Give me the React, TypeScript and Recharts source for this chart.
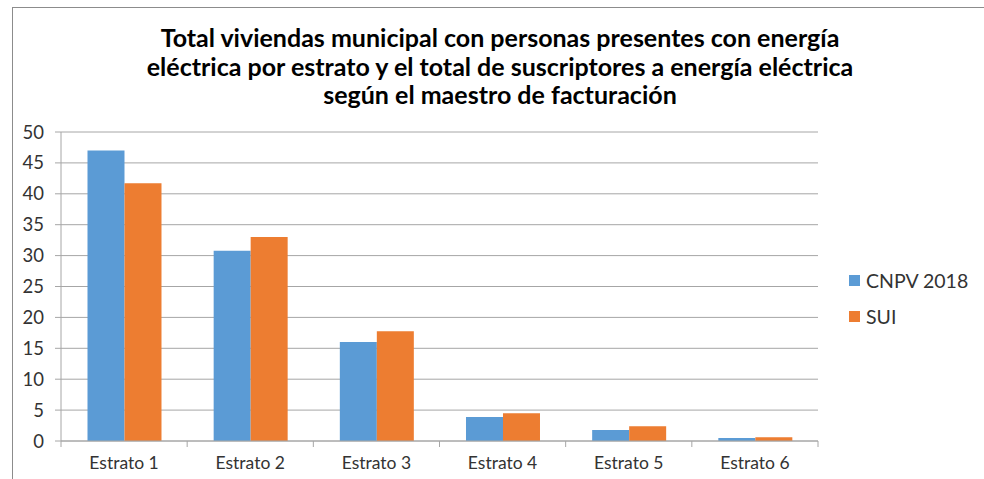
import { BarChart, Bar, XAxis, YAxis, CartesianGrid } from "recharts";

const categories = ["Estrato 1", "Estrato 2", "Estrato 3", "Estrato 4", "Estrato 5", "Estrato 6"];
const cnpv2018 = [47.0, 30.8, 16.0, 3.9, 1.8, 0.5];
const sui = [41.7, 33.0, 17.75, 4.5, 2.4, 0.6];
const yTicks = [0, 5, 10, 15, 20, 25, 30, 35, 40, 45, 50];
const seriesNames = ["CNPV 2018", "SUI"];

const COLORS = ["#5B9BD5", "#ED7D31"];
const AXIS = "#a6a6a6";
const TEXT = "#333";
const FONT = "Lato, 'Open Sans', sans-serif";
const X_MARGIN = 16;

const titleLines = [
  "Total viviendas municipal con personas presentes con energía",
  "eléctrica por estrato y el total de suscriptores a energía eléctrica",
  "según el maestro de facturación",
];

// category label plus the boundary tick marks Excel draws between bands
function CategoryTick(props: any) {
  const { x, y, payload, index } = props;
  const off = payload?.offset ?? 0;
  const axisY = y - X_MARGIN;
  const last = index === categories.length - 1;
  return (
    <g>
      {off > 0 && (
        <line x1={x - off} x2={x - off} y1={axisY} y2={axisY + 6} stroke={AXIS} />
      )}
      {off > 0 && last && (
        <line x1={x + off} x2={x + off} y1={axisY} y2={axisY + 6} stroke={AXIS} />
      )}
      <text x={x} y={y} dy="0.71em" textAnchor="middle" fontSize={17.5} fill={TEXT} fontFamily={FONT}>
        {payload.value}
      </text>
    </g>
  );
}

export default function App() {
  const data = categories.map((name, i) => ({
    name,
    [seriesNames[0]]: cnpv2018[i],
    [seriesNames[1]]: sui[i],
  }));

  return (
    <div
      style={{
        position: "absolute",
        left: 0,
        top: 0,
        width: 984,
        height: 479,
        overflow: "hidden",
        background: "#fff",
        fontFamily: FONT,
      }}
    >
      {/* chart frame, only left and top edges are visible */}
      <div
        style={{
          position: "absolute",
          left: 12,
          top: 7,
          width: 1000,
          height: 500,
          borderLeft: "1px solid #8c8c8c",
          borderTop: "1px solid #8c8c8c",
        }}
      />
      <div
        style={{
          position: "absolute",
          left: 98,
          top: 23,
          width: 804,
          textAlign: "center",
          fontWeight: 700,
          fontSize: 25,
          lineHeight: "28.5px",
          color: "#000",
        }}
      >
        {titleLines.map((t) => (
          <div key={t}>{t}</div>
        ))}
      </div>

      <div style={{ position: "absolute", left: 0, top: 0 }}>
        <BarChart
          width={984}
          height={479}
          data={data}
          margin={{ top: 132, right: 166, bottom: 8, left: 21 }}
          barCategoryGap="21%"
          barGap={0}
        >
          <CartesianGrid vertical={false} stroke={AXIS} />
          <XAxis
            dataKey="name"
            height={30}
            stroke={AXIS}
            tickSize={0}
            tickMargin={X_MARGIN}
            tickLine={false}
            interval={0}
            tick={<CategoryTick />}
          />
          <YAxis
            width={40}
            domain={[0, 50]}
            ticks={yTicks}
            interval={0}
            stroke={AXIS}
            tickSize={6}
            tickMargin={11}
            tick={{ fontSize: 18.5, fill: TEXT, fontFamily: FONT }}
          />
          {seriesNames.map((s, i) => (
            <Bar key={s} dataKey={s} fill={COLORS[i]} isAnimationActive={false} />
          ))}
        </BarChart>
      </div>

      <div style={{ position: "absolute", left: 849, top: 262, fontSize: 19.5, color: TEXT }}>
        {seriesNames.map((s, i) => (
          <div key={s} style={{ display: "flex", alignItems: "center", height: 36 }}>
            <span
              style={{
                display: "inline-block",
                width: 11,
                height: 11,
                background: COLORS[i],
                marginRight: 6,
              }}
            />
            {s}
          </div>
        ))}
      </div>
    </div>
  );
}
